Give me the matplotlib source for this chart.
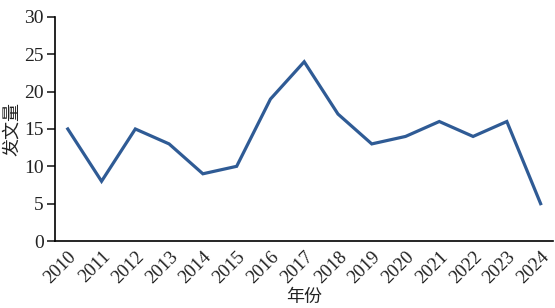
import matplotlib.pyplot as plt

plt.rcParams['font.family'] = ['Liberation Serif', 'Noto Sans CJK SC']

years = [2010, 2011, 2012, 2013, 2014, 2015, 2016, 2017, 2018, 2019, 2020, 2021, 2022, 2023, 2024]
counts = [15, 8, 15, 13, 9, 10, 19, 24, 17, 13, 14, 16, 14, 16, 5]
y_ticks = [0, 5, 10, 15, 20, 25, 30]

fig = plt.figure(figsize=(5.55, 3.08), dpi=100)
ax = fig.add_axes([0.099, 0.2175, 0.897, 0.7275])

ax.plot(years, counts, color='#2f5b95', linewidth=2.3, solid_joinstyle='miter')

ax.set_xlim(2009.62, 2024.36)
ax.set_ylim(0, 30)
ax.set_yticks(y_ticks)
ax.set_xticks(years)
ax.set_xticklabels([str(y) for y in years], rotation=45, ha='right', rotation_mode='anchor')

ax.spines['top'].set_visible(False)
ax.spines['right'].set_visible(False)
ax.spines['left'].set_linewidth(1.2)
ax.spines['bottom'].set_linewidth(1.2)
ax.tick_params(axis='y', length=6, width=1.2, labelsize=14, pad=2, colors='#222222')
ax.tick_params(axis='x', length=0, labelsize=13.5, pad=5, colors='#222222')

ax.set_ylabel('发文量', family=['Noto Sans CJK SC'], fontsize=13, labelpad=2, color='#222222')
ax.set_xlabel('年份', family=['Noto Sans CJK SC'], fontsize=13, labelpad=1, color='#222222')

fig.savefig('out.png', dpi=100)
